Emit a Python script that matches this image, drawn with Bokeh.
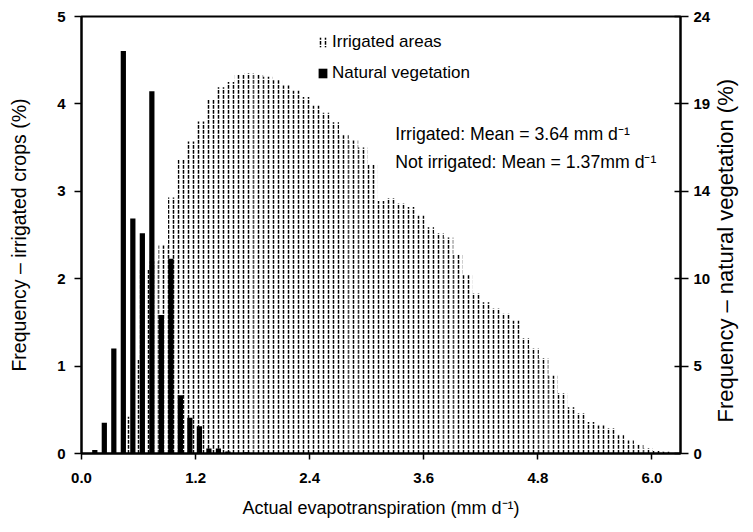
import math
from bokeh.plotting import figure
from bokeh.models import (Range1d, LinearAxis, FixedTicker, NumeralTickFormatter,
                          CustomJSTickFormatter, Legend, LegendItem, Label, ColumnDataSource)
from bokeh.embed import file_html
from bokeh.resources import INLINE

# ---------------- data ----------------
# Irrigated areas: frequency (%) per 0.1 mm/d bin (left axis)
irr_x = [0.06, 0.16, 0.26, 0.36, 0.46, 0.56, 0.66, 0.76, 0.86, 0.96,
         1.06, 1.16, 1.26, 1.36, 1.46, 1.56, 1.66, 1.76, 1.86, 1.96,
         2.06, 2.16, 2.26, 2.36, 2.46, 2.56, 2.66, 2.76, 2.86, 2.96,
         3.06, 3.16, 3.26, 3.36, 3.46, 3.56, 3.66, 3.76, 3.86, 3.96,
         4.06, 4.16, 4.26, 4.36, 4.46, 4.56, 4.66, 4.76, 4.86, 4.96,
         5.06, 5.16, 5.26, 5.36, 5.46, 5.56, 5.66, 5.76, 5.86, 5.96,
         6.06, 6.16, 6.26]
irr_freq = [0.0, 0.0, 0.0, 0.0, 0.42, 1.08, 2.11, 2.20, 2.38, 2.93,
            3.37, 3.57, 3.80, 4.05, 4.19, 4.25, 4.34, 4.35, 4.33, 4.31,
            4.27, 4.21, 4.15, 4.08, 3.98, 3.90, 3.79, 3.64, 3.58, 3.50,
            3.31, 2.89, 2.92, 2.86, 2.82, 2.72, 2.59, 2.52, 2.47, 2.27,
            2.04, 1.83, 1.73, 1.66, 1.60, 1.52, 1.32, 1.20, 1.09, 0.89,
            0.69, 0.53, 0.46, 0.36, 0.32, 0.29, 0.21, 0.15, 0.11, 0.06,
            0.03, 0.02, 0.0]

# Natural vegetation: frequency (%) (right axis)
nv_x = [0.14, 0.24, 0.34, 0.44, 0.54, 0.64, 0.74, 0.84, 0.94, 1.04,
        1.14, 1.24, 1.34, 1.44, 1.54, 1.64, 1.74]
nv_freq = [0.19, 1.69, 5.76, 22.1, 12.9, 12.1, 19.9, 7.6, 10.7, 3.2,
           1.97, 1.5, 0.27, 0.27, 0.11, 0.0, 0.07]

x_ticks = [0.0, 1.2, 2.4, 3.6, 4.8, 6.0]
left_ticks = [0, 1, 2, 3, 4, 5]
right_ticks = [0, 4.8, 9.6, 14.4, 19.2, 24]

FONT = "Liberation Sans, Arial, sans-serif"

# ---------------- figure ----------------
p = figure(width=753, height=532, x_range=Range1d(0, 6.3), y_range=Range1d(0, 5),
           output_backend="svg", toolbar_location=None,
           min_border_left=81, min_border_right=68, min_border_top=16, min_border_bottom=79)
p.extra_y_ranges = {"nv": Range1d(0, 24)}
p.xgrid.visible = False
p.ygrid.visible = False
p.outline_line_color = "black"
p.outline_line_width = 2
p.background_fill_color = "white"
p.border_fill_color = "white"

irr_src = ColumnDataSource(dict(x=irr_x, top=irr_freq))
nv_src = ColumnDataSource(dict(x=nv_x, top=nv_freq))

irr = p.vbar(x="x", top="top", bottom=0, width=0.1, source=irr_src,
             fill_color=None, line_color=None,
             hatch_pattern="vertical_dash", hatch_color="black",
             hatch_scale=5, hatch_weight=1.5)
nv = p.vbar(x="x", top="top", bottom=0, width=0.055, source=nv_src,
            y_range_name="nv", fill_color="black", line_color=None)

# x axis
xa = p.xaxis[0]
xa.ticker = FixedTicker(ticks=x_ticks)
xa.formatter = NumeralTickFormatter(format="0.0")
xa.axis_label = "Actual evapotranspiration (mm d\u207b\u00b9)"
xa.axis_label_text_font_size = "18px"
xa.axis_label_standoff = 12
xa.major_label_standoff = 13
xa.major_tick_in = 0
xa.major_tick_out = 6

# left axis
ya = p.yaxis[0]
ya.ticker = FixedTicker(ticks=left_ticks)
ya.major_label_standoff = 9
ya.major_tick_in = 0
ya.major_tick_out = 7
ya.axis_label = "Frequency \u2013 irrigated crops (%)"
ya.axis_label_text_font_size = "19.5px"
ya.axis_label_standoff = 24

# right axis (ticks and numbers)
ra = LinearAxis(y_range_name="nv", ticker=FixedTicker(ticks=right_ticks),
                formatter=CustomJSTickFormatter(code="return Math.round(tick).toString();"))
p.add_layout(ra, "right")
ra.major_tick_in = 6
ra.major_tick_out = 8
ra.major_label_standoff = 5

for ax in (xa, ya, ra):
    ax.axis_line_color = "black"
    ax.axis_line_width = 2
    ax.major_tick_line_color = "black"
    ax.major_tick_line_width = 1.5
    ax.minor_tick_line_color = None
    ax.major_label_text_font = FONT
    ax.major_label_text_font_style = "bold"
    ax.major_label_text_font_size = "15px"
    ax.major_label_text_color = "black"
    ax.axis_label_text_font = FONT
    ax.axis_label_text_font_style = "normal"
    ax.axis_label_text_color = "black"

# right axis title (drawn as the single label of an extra, line-less axis,
# reading bottom-to-top like the reference)
right_title = "Frequency \u2013 natural vegetation (%)"
rt = LinearAxis(y_range_name="nv", ticker=FixedTicker(ticks=[1.7]),
                formatter=CustomJSTickFormatter(code="return %r;" % right_title))
rt.axis_line_color = None
rt.major_tick_line_color = None
rt.minor_tick_line_color = None
rt.major_tick_in = 0
rt.major_tick_out = 0
rt.major_label_standoff = 12
rt.major_label_orientation = math.pi / 2
rt.major_label_text_font = FONT
rt.major_label_text_font_style = "normal"
rt.major_label_text_font_size = "22px"
rt.major_label_text_color = "black"
p.add_layout(rt, "right")

# annotation
p.add_layout(Label(x=3.3, y=3.66, text="Irrigated: Mean = 3.64 mm d\u207b\u00b9",
                   text_baseline="middle", text_font=FONT, text_font_size="17.7px",
                   text_color="black"))
p.add_layout(Label(x=3.3, y=3.33, text="Not irrigated: Mean = 1.37mm d\u207b\u00b9",
                   text_baseline="middle", text_font=FONT, text_font_size="17.7px",
                   text_color="black"))

# legend
legend = Legend(items=[LegendItem(label="Irrigated areas", renderers=[irr]),
                       LegendItem(label="Natural vegetation", renderers=[nv])],
                location=(236, 369), orientation="vertical",
                padding=0, margin=0, spacing=8, label_standoff=4,
                glyph_width=11, glyph_height=12, label_height=23,
                border_line_color=None, background_fill_alpha=0,
                label_text_font=FONT, label_text_font_size="17px",
                label_text_color="black")
p.add_layout(legend)

open("out.html", "w").write(file_html(p, INLINE))
